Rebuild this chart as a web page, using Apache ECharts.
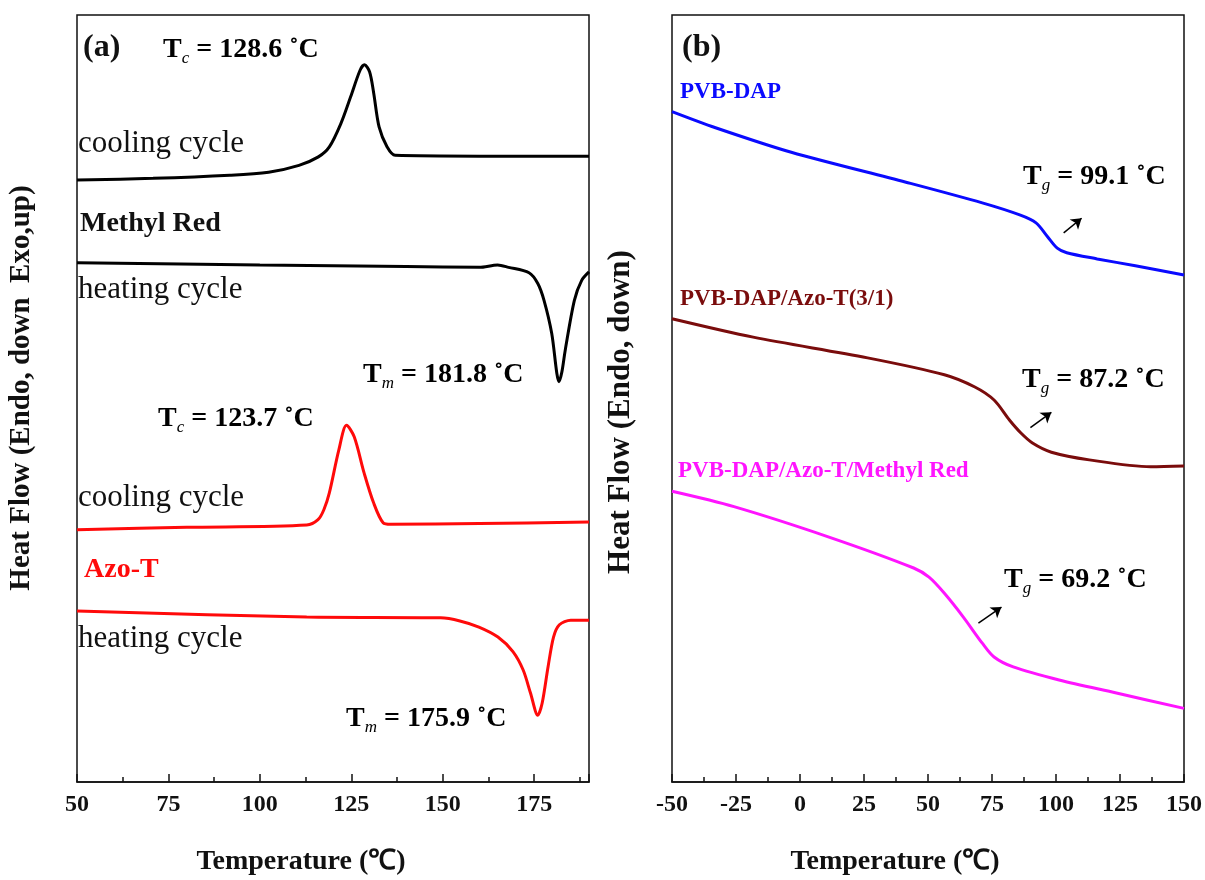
<!DOCTYPE html>
<html>
<head>
<meta charset="utf-8">
<script src="https://cdn.jsdelivr.net/npm/echarts@6/dist/echarts.min.js"></script>
<style>
html,body{margin:0;padding:0;background:#fff;}
#chart{width:1205px;height:880px;}
</style>
</head>
<body>
<div id="chart"></div>
<script>
// ---- Data (Temperature in °C, heat flow in arbitrary units) ----
const leftTicks = [50, 75, 100, 125, 150, 175];
const rightTicks = [-50, -25, 0, 25, 50, 75, 100, 125, 150];

// (a) Methyl Red, cooling cycle
const mrCoolT = [50, 70.8, 91.8, 102.4, 110.7, 116, 119, 122.2, 124.8, 127.4, 128.6, 130, 131.1, 132.6, 134.8, 137, 160, 190];
const mrCoolH = [78.5, 78.7, 79.1, 79.5, 80.4, 81.5, 82.8, 85.9, 89.3, 92.8, 93.5, 92.6, 89.9, 85.4, 82.8, 81.7, 81.6, 81.6];
// (a) Methyl Red, heating cycle
const mrHeatT = [50, 100, 140, 160, 165, 168, 173.6, 176, 177.7, 179.8, 181.2, 181.8, 182.6, 183.5, 186, 188, 190];
const mrHeatH = [67.7, 67.4, 67.2, 67.1, 67.4, 67.1, 66.4, 65.0, 62.8, 58.5, 53.3, 52.2, 53.5, 56.3, 62.8, 65.4, 66.5];
// (a) Azo-T, cooling cycle
const azoCoolT = [50, 80, 112.8, 115.9, 117.5, 119, 121.6, 123.7, 125.8, 128.5, 131.1, 133.7, 135.8, 160, 190];
const azoCoolH = [32.9, 33.2, 33.5, 34.2, 35.5, 37.7, 43.3, 46.5, 45.0, 40.3, 36.4, 33.8, 33.6, 33.7, 33.9];
// (a) Azo-T, heating cycle
const azoHeatT = [50, 112.8, 149.4, 154.7, 159.9, 165.1, 169.2, 172, 174, 176, 177.2, 178.8, 180.3, 181.9, 185, 190];
const azoHeatH = [22.3, 21.5, 21.4, 21.0, 20.2, 18.9, 17.0, 14.6, 11.6, 8.7, 10.3, 15.0, 18.9, 20.5, 21.1, 21.1];

// (b) PVB-DAP
const pvbT = [-50, -33, -3.4, 41.4, 71.2, 86.1, 92.2, 96.7, 100.5, 104.2, 116.1, 131, 150];
const pvbH = [87.4, 85.3, 82.1, 78.2, 75.5, 73.9, 72.9, 71.1, 69.6, 69.0, 68.2, 67.3, 66.1];
// (b) PVB-DAP/Azo-T(3/1)
const pvbAzoT = [-50, -18.3, 26.4, 56.4, 68.3, 75.8, 81.8, 86.3, 90.8, 98.2, 113, 137, 150];
const pvbAzoH = [60.4, 58.0, 55.3, 53.1, 51.5, 49.8, 47.2, 45.5, 44.2, 43.0, 42.0, 41.1, 41.2];
// (b) PVB-DAP/Azo-T/Methyl Red
const pvbMrT = [-50, -25.8, 11.6, 44.4, 50.4, 56.4, 63.8, 71.2, 75.8, 83.3, 101.2, 123.6, 150];
const pvbMrH = [37.9, 35.9, 31.9, 27.9, 26.7, 24.6, 21.5, 18.1, 16.3, 15.0, 13.3, 11.6, 9.6];

// Tg arrows (start -> end), panel (b)
const arrowT = [[103, 110], [90, 98.2], [69.7, 78.7]];
const arrowH = [[71.6, 73.5], [46.2, 48.2], [20.7, 22.8]];

// ---- Build ----
const FONT = '"Liberation Serif", "Times New Roman", serif';
function zip(a, b) { return a.map((v, i) => [v, b[i]]); }

const chart = echarts.init(document.getElementById('chart'), null, {renderer: 'canvas'});

function xAxisCfg(gridIndex, min, max, ticks) {
  return {
    type: 'value', gridIndex, min, max, interval: 25,
    axisLine: {show: true, onZero: false, lineStyle: {color: '#111', width: 1.5}},
    axisTick: {show: true, inside: true, length: 8, lineStyle: {color: '#111', width: 1.5}},
    minorTick: {show: true, splitNumber: 2, length: 5, lineStyle: {color: '#111', width: 1.5}},
    splitLine: {show: false},
    axisLabel: {
      show: true, margin: 11, color: '#111',
      fontFamily: FONT, fontWeight: 'bold', fontSize: 24,
      showMaxLabel: true, showMinLabel: true,
      formatter: v => ticks.indexOf(v) >= 0 ? String(v) : ''
    }
  };
}
function yAxisCfg(gridIndex) {
  return {
    type: 'value', gridIndex, min: 0, max: 100,
    axisLine: {show: false}, axisTick: {show: false}, axisLabel: {show: false}, splitLine: {show: false}
  };
}
function lineSeries(x, y, T, H, color) {
  return {
    type: 'line', xAxisIndex: x, yAxisIndex: x, data: zip(T, H),
    showSymbol: false, smooth: 0.3,
    lineStyle: {color, width: 3}, itemStyle: {color}, silent: true, animation: false
  };
}

const series = [
  lineSeries(0, 0, mrCoolT, mrCoolH, '#000000'),
  lineSeries(0, 0, mrHeatT, mrHeatH, '#000000'),
  lineSeries(0, 0, azoCoolT, azoCoolH, '#ff0a0a'),
  lineSeries(0, 0, azoHeatT, azoHeatH, '#ff0a0a'),
  lineSeries(1, 1, pvbT, pvbH, '#0a0aff'),
  lineSeries(1, 1, pvbAzoT, pvbAzoH, '#7a0c0c'),
  lineSeries(1, 1, pvbMrT, pvbMrH, '#ff14ff')
];
// arrows
series.push({
  type: 'line', xAxisIndex: 1, yAxisIndex: 1, data: [], silent: true, animation: false,
  markLine: {
    silent: true, animation: false, symbol: ['none', 'arrow'], symbolSize: 10,
    label: {show: false},
    lineStyle: {color: '#000', width: 1.5, type: 'solid'},
    data: arrowT.map((t, i) => [{coord: [t[0], arrowH[i][0]]}, {coord: [t[1], arrowH[i][1]]}])
  }
});

function richT(sub, rest, x, y) {
  return {
    type: 'text', left: x, top: y,
    style: {
      text: '{m|T}{s|' + sub + '}{m|' + rest + '}',
      rich: {
        m: {fontFamily: FONT, fontSize: 28, fontWeight: 'bold', color: '#111', lineHeight: 34, verticalAlign: 'middle'},
        s: {fontFamily: FONT, fontSize: 17, fontStyle: 'italic', color: '#111', lineHeight: 16, verticalAlign: 'bottom'}
      }
    }
  };
}
function plain(text, x, y, size, color, bold) {
  return {
    type: 'text', left: x, top: y,
    style: {text, fontFamily: FONT, fontSize: size, fontWeight: bold ? 'bold' : 'normal', fill: color}
  };
}
function centered(text, x, y, size, rot) {
  return {
    type: 'text', x, y, rotation: rot,
    style: {text, fontFamily: FONT, fontSize: size, fontWeight: 'bold', fill: '#111', align: 'center', verticalAlign: 'middle'}
  };
}

const graphics = [
  plain('(a)', 83, 32, 32, '#111', true),
  richT('c', ' = 128.6 \u02DAC', 163, 36),
  plain('cooling cycle', 78, 128, 31, '#111', false),
  plain('Methyl Red', 80, 210, 28, '#111', true),
  plain('heating cycle', 78, 274, 31, '#111', false),
  richT('m', ' = 181.8 \u02DAC', 363, 361),
  richT('c', ' = 123.7 \u02DAC', 158, 405),
  plain('cooling cycle', 78, 482, 31, '#111', false),
  plain('Azo-T', 84, 556, 28, '#ff0a0a', true),
  plain('heating cycle', 78, 623, 31, '#111', false),
  richT('m', ' = 175.9 \u02DAC', 346, 705),

  plain('(b)', 682, 32, 32, '#111', true),
  plain('PVB-DAP', 680, 81, 23, '#0a0aff', true),
  richT('g', ' = 99.1 \u02DAC', 1023, 163),
  plain('PVB-DAP/Azo-T(3/1)', 680, 288, 23, '#7a0c0c', true),
  richT('g', ' = 87.2 \u02DAC', 1022, 366),
  plain('PVB-DAP/Azo-T/Methyl Red', 678, 460, 23, '#ff14ff', true),
  richT('g', ' = 69.2 \u02DAC', 1004, 566),

  centered('Heat Flow (Endo, down  Exo,up)', 22, 388, 29, Math.PI / 2),
  centered('Heat Flow (Endo, down)', 621, 412, 31, Math.PI / 2),
  centered('Temperature (\u2103)', 301, 862, 28, 0),
  centered('Temperature (\u2103)', 895, 862, 28, 0)
];

chart.setOption({
  animation: false,
  backgroundColor: '#ffffff',
  grid: [
    {left: 77, right: 1205 - 589, top: 15, bottom: 880 - 782, show: true, borderColor: '#111', borderWidth: 1.5, backgroundColor: 'transparent'},
    {left: 672, right: 1205 - 1185, top: 15, bottom: 880 - 782, show: true, borderColor: '#111', borderWidth: 1.5, backgroundColor: 'transparent'}
  ],
  xAxis: [xAxisCfg(0, 50, 190, leftTicks), xAxisCfg(1, -50, 150, rightTicks)],
  yAxis: [yAxisCfg(0), yAxisCfg(1)],
  series,
  graphic: graphics
});
</script>
</body>
</html>
